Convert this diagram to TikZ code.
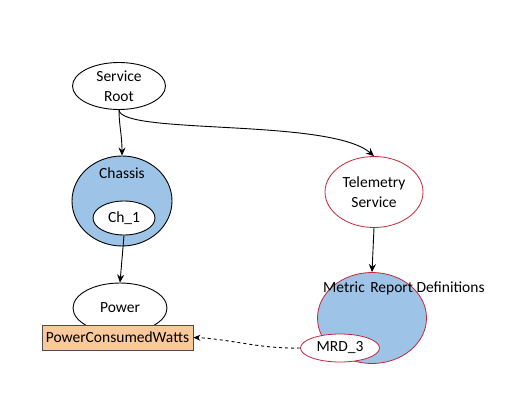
\documentclass[tikz,border=0pt]{standalone}
\usepackage{fontspec}
\setmainfont{Carlito}
\usetikzlibrary{arrows.meta,shapes.geometric}
\definecolor{fillblue}{HTML}{9DC3E6}
\definecolor{fillorange}{HTML}{F9C89B}
\definecolor{edgered}{HTML}{C0283A}
\begin{document}
\begin{tikzpicture}[x=1pt,y=-1pt,
  every node/.style={font=\fontsize{15.5}{18}\selectfont},
  ell/.style={ellipse,draw=black,line width=0.9pt,inner sep=0pt},
  redell/.style={ellipse,draw=edgered,line width=0.8pt,inner sep=0pt},
  lbl/.style={inner sep=0pt,align=center},
  arr/.style={-{Stealth[length=8pt,width=7pt]},line width=0.9pt},
  darr/.style={-{Stealth[length=7pt,width=6pt]},line width=0.9pt,dashed}]
\useasboundingbox (0,0) rectangle (526,417);
\fill[white] (0,0) rectangle (526,417);
% Service Root
\node[ell,fill=white,minimum width=93pt,minimum height=47pt] (sr) at (119,86) {};
\node[lbl] (srt) at (119,86) {Service\\[2pt]Root};
% Chassis
\node[ell,fill=fillblue,minimum width=100pt,minimum height=90pt] (ch) at (122,201) {};
\node[lbl] (cht) at (122,173) {Chassis};
\node[ell,fill=white,minimum width=62pt,minimum height=34pt] (ch1) at (124,218) {Ch\_1};
% Power
\node[ell,fill=white,minimum width=94pt,minimum height=50pt] (pw) at (120,308) {};
\node[lbl] (pwt) at (120,308) {Power};
\node[draw=black!70,fill=fillorange,line width=0.8pt,minimum width=151pt,minimum height=25pt,inner sep=0pt] (pcw) at (117.5,337.5) {PowerConsumedWatts};
% Telemetry Service
\node[redell,fill=white,minimum width=98pt,minimum height=71pt] (ts) at (374,192) {};
\node[lbl] (tst) at (374,192) {Telemetry\\[2pt]Service};
% Metric Report Definitions
\node[redell,fill=fillblue,minimum width=109pt,minimum height=91pt] (mrd) at (372,318) {};
\node[lbl,anchor=west] (mrdt) at (323,288) {Metric\hspace{2pt} Report Definitions};
\node[redell,fill=white,minimum width=79pt,minimum height=28pt] (mrd3) at (340,348) {MRD\_3};
% connectors
\draw[arr] (sr.south) .. controls (119,125) and (122,135) .. (ch.north);
\draw[arr] (sr.south) .. controls (121,135) and (330,118) .. (ts.north);
\draw[arr] (ch1.south) -- (pw.north);
\draw[arr] (ts.south) -- (mrd.north);
\draw[darr] (mrd3.west) .. controls (260,349) and (230,339) .. (pcw.east);
\end{tikzpicture}
\end{document}
